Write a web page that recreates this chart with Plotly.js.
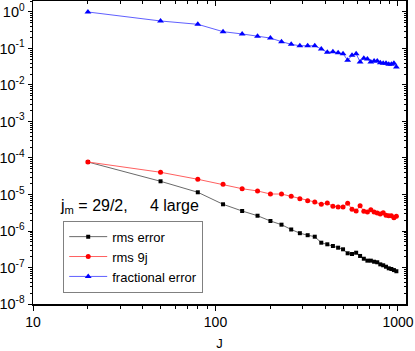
<!DOCTYPE html>
<html>
<head>
<meta charset="utf-8">
<script src="https://cdn.plot.ly/plotly-3.0.1.min.js"></script>
<style>html,body{margin:0;padding:0;background:#fff;}#chart{width:415px;height:351px;}</style>
</head>
<body>
<div id="chart"></div>
<script>
const J = [20,50,80,110,140,170,200,230,260,290,320,350,380,410,440,470,500,530,560,590,620,650,680,710,740,770,800,830,860,890,920,950,980];
const rmsError = [7.77e-5,2.30e-5,1.15e-5,5.39e-6,3.53e-6,2.62e-6,1.88e-6,1.49e-6,1.10e-6,8.7e-7,7.67e-7,6.98e-7,4.78e-7,4.32e-7,3.88e-7,3.49e-7,3.15e-7,2.45e-7,2.34e-7,2.54e-7,2.07e-7,1.74e-7,1.54e-7,1.54e-7,1.44e-7,1.39e-7,1.22e-7,1.15e-7,1.05e-7,9.5e-8,9.1e-8,8.5e-8,7.9e-8];
const rms9j = [7.77e-5,4.06e-5,2.61e-5,1.90e-5,1.44e-5,1.25e-5,1.03e-5,1.03e-5,8.93e-6,7.68e-6,6.76e-6,6.23e-6,5.39e-6,5.85e-6,4.75e-6,4.55e-6,4.55e-6,5.74e-6,3.93e-6,3.53e-6,4.93e-6,3.47e-6,3.32e-6,3.84e-6,3.32e-6,3.11e-6,2.92e-6,3.17e-6,2.69e-6,2.62e-6,2.62e-6,2.31e-6,2.53e-6];
const fracError = [1.0,0.567,0.46,0.289,0.25,0.216,0.193,0.154,0.13,0.119,0.119,0.119,0.097,0.0787,0.0817,0.0767,0.072,0.0475,0.065,0.072,0.0427,0.054,0.0516,0.0427,0.0455,0.0455,0.0408,0.0393,0.0393,0.0369,0.0369,0.0393,0.0311];
const seriesNames = ['rms error','rms 9j','fractional error'];
const yTickVals = [1e-8,1e-7,1e-6,1e-5,1e-4,1e-3,1e-2,1e-1,1e0];
const yTickText = ['10<sup>-8</sup>','10<sup>-7</sup>','10<sup>-6</sup>','10<sup>-5</sup>','10<sup>-4</sup>','10<sup>-3</sup>','10<sup>-2</sup>','10<sup>-1</sup>','10<sup>0</sup>'];
const xTickVals = [10,100,1000];
const xTickText = ['10','100','1000'];
const annText = 'j<sub>m</sub> = 29/2,\u00a0\u00a0\u00a0\u00a0\u00a04 large';
const xTitle = 'J';

const FONT = 'Liberation Sans, Arial, sans-serif';
const traces = [
  {x: J, y: rmsError, name: seriesNames[0], mode: 'lines+markers', type: 'scatter',
   line: {color: '#6a6a6a', width: 1}, marker: {color: '#000', symbol: 'square', size: 4}},
  {x: J, y: rms9j, name: seriesNames[1], mode: 'lines+markers', type: 'scatter',
   line: {color: '#ff6060', width: 1}, marker: {color: '#ff0000', symbol: 'circle', size: 5}},
  {x: J, y: fracError, name: seriesNames[2], mode: 'lines+markers', type: 'scatter',
   line: {color: '#6060ff', width: 1}, marker: {color: '#0000ff', symbol: 'triangle-up', size: 6}},
  {x: [], y: [], xaxis: 'x2', yaxis: 'y2', showlegend: false, hoverinfo: 'skip', type: 'scatter'}
];
const xr = [1, 3.044], yr = [-8, 0.301];
const layout = {
  width: 415, height: 351,
  margin: {l: 33, r: 9, t: 1, b: 47},
  paper_bgcolor: '#fff', plot_bgcolor: '#fff',
  font: {family: FONT, size: 13, color: '#000'},
  showlegend: true,
  legend: {x: 0.081, y: 0.275, xanchor: 'left', yanchor: 'top', bordercolor: '#808080', borderwidth: 1,
           font: {family: FONT, size: 13}, itemwidth: 38, tracegroupgap: 0, bgcolor: 'rgba(255,255,255,0)'},
  xaxis: {type: 'log', range: xr, autorange: false, tickmode: 'array', tickvals: xTickVals, ticktext: xTickText,
          ticks: 'outside', ticklen: 5, tickwidth: 1, tickcolor: '#000', showgrid: false, zeroline: false,
          showline: true, linecolor: '#000', linewidth: 1.5, tickfont: {size: 14},
          minor: {ticks: 'outside', ticklen: 3, tickwidth: 1, tickcolor: '#000', dtick: 'D1', showgrid: false},
          title: {text: xTitle, font: {size: 13}, standoff: 12}},
  yaxis: {type: 'log', range: yr, autorange: false, tickmode: 'array', tickvals: yTickVals, ticktext: yTickText,
          ticks: 'outside', ticklen: 4, tickwidth: 1, tickcolor: '#000', showgrid: false, zeroline: false,
          showline: true, linecolor: '#000', linewidth: 1.5, tickfont: {size: 14.5},
          minor: {ticks: 'outside', ticklen: 2, tickwidth: 1, tickcolor: '#000', dtick: 'D1', showgrid: false}},
  xaxis2: {type: 'log', range: xr, autorange: false, overlaying: 'x', side: 'top', anchor: 'y2',
           tickmode: 'array', tickvals: xTickVals, ticks: 'inside', ticklen: 5, tickcolor: '#000',
           showticklabels: false, showgrid: false, zeroline: false, showline: true, linecolor: '#000', linewidth: 1.5,
           minor: {ticks: 'inside', ticklen: 3, tickcolor: '#000', dtick: 'D1', showgrid: false}},
  yaxis2: {type: 'log', range: yr, autorange: false, overlaying: 'y', side: 'right', anchor: 'x2',
           tickmode: 'array', tickvals: yTickVals, ticks: 'inside', ticklen: 4, tickcolor: '#000',
           showticklabels: false, showgrid: false, zeroline: false, showline: true, linecolor: '#000', linewidth: 1.5,
           minor: {ticks: 'inside', ticklen: 2, tickcolor: '#000', dtick: 'D1', showgrid: false}},
  annotations: [{xref: 'paper', yref: 'paper', x: 0.067, y: 0.323, xanchor: 'left', yanchor: 'middle',
                 text: annText, showarrow: false, font: {family: FONT, size: 16, color: '#000'}}]
};
Plotly.newPlot('chart', traces, layout, {displayModeBar: false, staticPlot: true});
</script>
</body>
</html>
